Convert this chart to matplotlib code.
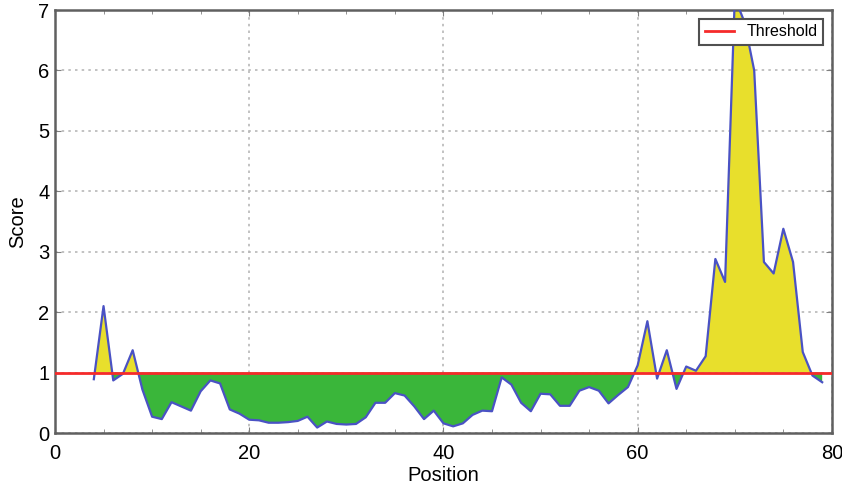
import numpy as np
import matplotlib
matplotlib.use("Agg")
import matplotlib.pyplot as plt
from matplotlib.ticker import MultipleLocator

plt.rcParams["font.family"] = ["Liberation Sans", "DejaVu Sans"]

positions = np.arange(4, 80)
scores = [
    0.89, 2.10, 0.87, 0.98, 1.37, 0.72, 0.27, 0.23, 0.51, 0.44,   # 4-13
    0.37, 0.69, 0.87, 0.82, 0.39, 0.32, 0.22, 0.21, 0.17, 0.17,   # 14-23
    0.18, 0.20, 0.27, 0.09, 0.19, 0.15, 0.14, 0.15, 0.26, 0.50,   # 24-33
    0.50, 0.66, 0.62, 0.44, 0.23, 0.37, 0.16, 0.11, 0.16, 0.30,   # 34-43
    0.37, 0.36, 0.92, 0.80, 0.50, 0.36, 0.65, 0.64, 0.45, 0.45,   # 44-53
    0.70, 0.76, 0.70, 0.49, 0.63, 0.76, 1.12, 1.85, 0.90, 1.37,   # 54-63
    0.73, 1.10, 1.03, 1.27, 2.88, 2.50, 7.20, 6.80, 6.00, 2.83,   # 64-73
    2.64, 3.38, 2.83, 1.34, 0.95, 0.84,                           # 74-79
]
threshold = 1.0
x_ticks = [0, 20, 40, 60, 80]
y_ticks = [0, 1, 2, 3, 4, 5, 6, 7]

scores = np.array(scores)

fig = plt.figure(figsize=(8.42, 4.88), dpi=100)
ax = fig.add_axes([0.0653, 0.1127, 0.9227, 0.8668])

ax.fill_between(positions, scores, threshold, where=scores >= threshold,
                interpolate=True, color="#e8df2c", linewidth=0, zorder=2)
ax.fill_between(positions, scores, threshold, where=scores <= threshold,
                interpolate=True, color="#3ab63a", linewidth=0, zorder=2)
ax.plot(positions, scores, color="#4a52c4", linewidth=1.6, zorder=3)
ax.axhline(threshold, color="#f52a2a", linewidth=2.0, zorder=4, label="Threshold")

ax.set_xlim(0, 80)
ax.set_ylim(0, 7)
ax.set_xticks(x_ticks)
ax.set_yticks(y_ticks)
ax.xaxis.set_minor_locator(MultipleLocator(5))

ax.grid(True, which="major", color="#b8b8b8", linestyle=(0, (1.5, 2.5)),
        linewidth=1.2, zorder=1)
ax.set_axisbelow(True)

for spine in ax.spines.values():
    spine.set_color("#606060")
    spine.set_linewidth(1.8)

ax.tick_params(which="both", direction="in", top=True, right=True,
               color="#808080", labelsize=14.5)
ax.tick_params(axis="x", which="both", pad=8)
ax.tick_params(axis="y", which="both", pad=4)
ax.tick_params(which="major", length=4)
ax.tick_params(which="minor", length=3)

ax.set_xlabel("Position", fontsize=14.5, labelpad=2)
ax.set_ylabel("Score", fontsize=14.5, labelpad=8)

leg = ax.legend(loc="upper right", fontsize=11.5, frameon=True, fancybox=False,
                handlelength=1.8, borderpad=0.35, borderaxespad=0.55)
leg.get_frame().set_edgecolor("#505050")
leg.get_frame().set_linewidth(1.5)
leg.get_frame().set_alpha(1.0)
leg.set_zorder(10)

fig.savefig("out.png", dpi=100)
